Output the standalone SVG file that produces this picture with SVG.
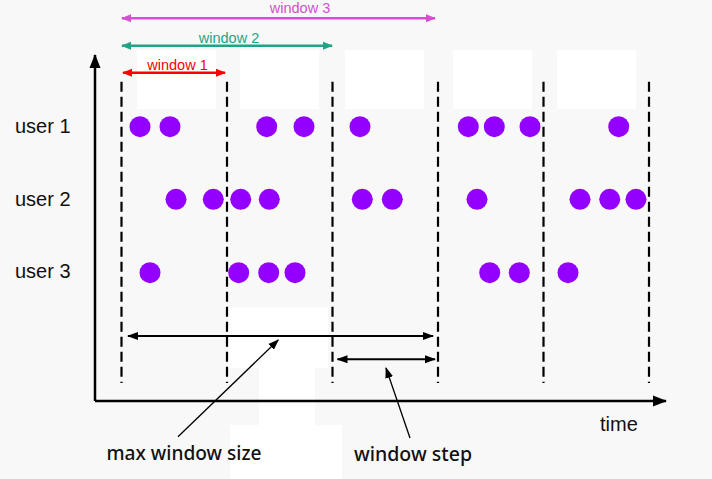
<svg xmlns="http://www.w3.org/2000/svg" width="712" height="479" viewBox="0 0 712 479">
<style>
.dash{stroke:#000;stroke-width:2.2;stroke-dasharray:10 5;fill:none}
.dot{fill:#9400ff}
.lbl{font-family:"Liberation Sans",Arial,sans-serif;font-size:20px;fill:#111}
.win{font-family:"Liberation Sans",Arial,sans-serif;font-size:14.5px;text-anchor:middle}
.note{font-family:"Noto Sans","Liberation Sans",sans-serif;font-size:19px;font-weight:500;fill:#111}
.white{fill:#ffffff}
</style>
<defs>
<marker id="mRed" markerUnits="userSpaceOnUse" markerWidth="10" markerHeight="10" refX="9" refY="5" orient="auto-start-reverse" viewBox="0 0 10 10"><path d="M0,1 L10,5 L0,9 Z" fill="#ff0000"/></marker>
<marker id="mTeal" markerUnits="userSpaceOnUse" markerWidth="10" markerHeight="10" refX="9" refY="5" orient="auto-start-reverse" viewBox="0 0 10 10"><path d="M0,1 L10,5 L0,9 Z" fill="#1ea486"/></marker>
<marker id="mMag" markerUnits="userSpaceOnUse" markerWidth="10" markerHeight="10" refX="9" refY="5" orient="auto-start-reverse" viewBox="0 0 10 10"><path d="M0,1 L10,5 L0,9 Z" fill="#d64fd0"/></marker>
<marker id="mBlk" markerUnits="userSpaceOnUse" markerWidth="11" markerHeight="10" refX="10" refY="5" orient="auto-start-reverse" viewBox="0 0 11 10"><path d="M0,1 L11,5 L0,9 Z" fill="#000"/></marker>
<marker id="mAxis" markerUnits="userSpaceOnUse" markerWidth="14" markerHeight="12" refX="13" refY="6" orient="auto" viewBox="0 0 14 12"><path d="M0,0.5 L14,6 L0,11.5 Z" fill="#000"/></marker>
</defs>
<rect x="0" y="0" width="712" height="479" fill="#f8f8f8"/>
<g id="background-patches">
<rect class="white" x="137" y="50" width="79" height="59"/>
<rect class="white" x="240" y="50" width="79" height="59"/>
<rect class="white" x="345" y="50" width="79" height="59"/>
<rect class="white" x="453" y="50" width="79" height="59"/>
<rect class="white" x="557" y="50" width="79" height="59"/>
<rect class="white" x="228" y="307.5" width="100" height="60.5"/>
<rect class="white" x="259" y="367" width="56" height="59"/>
<rect class="white" x="230" y="425" width="112" height="54"/>
</g>
<g id="axes">
<line x1="95" y1="401" x2="95" y2="55" stroke="#000" stroke-width="2.5" marker-end="url(#mAxis)"/>
<line x1="95" y1="401" x2="666" y2="401" stroke="#000" stroke-width="2.5" marker-end="url(#mAxis)"/>
<text class="lbl" x="600" y="431">time</text>
</g>
<g id="dividers">
<line class="dash" x1="121.5" y1="81.7" x2="121.5" y2="383"/>
<line class="dash" x1="227" y1="81.7" x2="227" y2="383"/>
<line class="dash" x1="332.5" y1="81.7" x2="332.5" y2="383"/>
<line class="dash" x1="438" y1="81.7" x2="438" y2="383"/>
<line class="dash" x1="543.5" y1="81.7" x2="543.5" y2="383"/>
<line class="dash" x1="649" y1="81.7" x2="649" y2="383"/>
</g>
<g id="user1">
<text class="lbl" x="15" y="133.3">user 1</text>
<circle class="dot" cx="140" cy="126.7" r="10.5"/>
<circle class="dot" cx="170" cy="126.7" r="10.5"/>
<circle class="dot" cx="266.7" cy="126.7" r="10.5"/>
<circle class="dot" cx="304" cy="126.7" r="10.5"/>
<circle class="dot" cx="360" cy="126.7" r="10.5"/>
<circle class="dot" cx="468.3" cy="126.7" r="10.5"/>
<circle class="dot" cx="494.3" cy="126.7" r="10.5"/>
<circle class="dot" cx="530" cy="126.7" r="10.5"/>
<circle class="dot" cx="618.7" cy="126.7" r="10.5"/>
</g>
<g id="user2">
<text class="lbl" x="15" y="206">user 2</text>
<circle class="dot" cx="176" cy="199.3" r="10.5"/>
<circle class="dot" cx="213.3" cy="199.3" r="10.5"/>
<circle class="dot" cx="240.7" cy="199.3" r="10.5"/>
<circle class="dot" cx="269.3" cy="199.3" r="10.5"/>
<circle class="dot" cx="362.3" cy="199.3" r="10.5"/>
<circle class="dot" cx="392.3" cy="199.3" r="10.5"/>
<circle class="dot" cx="477" cy="199.3" r="10.5"/>
<circle class="dot" cx="580" cy="199.3" r="10.5"/>
<circle class="dot" cx="609.7" cy="199.3" r="10.5"/>
<circle class="dot" cx="636" cy="199.3" r="10.5"/>
</g>
<g id="user3">
<text class="lbl" x="15" y="278.3">user 3</text>
<circle class="dot" cx="150" cy="272.7" r="10.5"/>
<circle class="dot" cx="238.7" cy="272.7" r="10.5"/>
<circle class="dot" cx="268.7" cy="272.7" r="10.5"/>
<circle class="dot" cx="295" cy="272.7" r="10.5"/>
<circle class="dot" cx="489.7" cy="272.7" r="10.5"/>
<circle class="dot" cx="519.3" cy="272.7" r="10.5"/>
<circle class="dot" cx="568" cy="272.7" r="10.5"/>
</g>
<g id="window1">
<text class="win" x="177.5" y="69.5" fill="#ff0000">window 1</text>
</g>
<g id="window2">
<text class="win" x="229" y="42.5" fill="#1ea486">window 2</text>
</g>
<g id="window3">
<text class="win" x="300" y="13.3" fill="#d64fd0">window 3</text>
</g>
<g id="max-window-size">
<text class="note" x="106.5" y="460" textLength="155" lengthAdjust="spacingAndGlyphs">max window size</text>
</g>
<g id="window-step">
<text class="note" x="354" y="461" textLength="118" lengthAdjust="spacingAndGlyphs">window step</text>
</g>
<g id="connectors">
<line x1="123" y1="72.7" x2="225" y2="72.7" stroke="#ff0000" stroke-width="2.5" marker-start="url(#mRed)" marker-end="url(#mRed)"/>
<line x1="122" y1="45.7" x2="332" y2="45.7" stroke="#1ea486" stroke-width="2.5" marker-start="url(#mTeal)" marker-end="url(#mTeal)"/>
<line x1="122" y1="18.3" x2="435" y2="18.3" stroke="#d64fd0" stroke-width="2.5" marker-start="url(#mMag)" marker-end="url(#mMag)"/>
<line x1="128" y1="336" x2="433" y2="336" stroke="#000" stroke-width="2" marker-start="url(#mBlk)" marker-end="url(#mBlk)"/>
<line x1="337.5" y1="359.3" x2="435" y2="359.3" stroke="#000" stroke-width="2" marker-start="url(#mBlk)" marker-end="url(#mBlk)"/>
<line x1="178" y1="436.7" x2="278.3" y2="340" stroke="#000" stroke-width="1.3" marker-end="url(#mBlk)"/>
<line x1="410" y1="438" x2="386" y2="368" stroke="#000" stroke-width="1.3" marker-end="url(#mBlk)"/>
</g>
</svg>
